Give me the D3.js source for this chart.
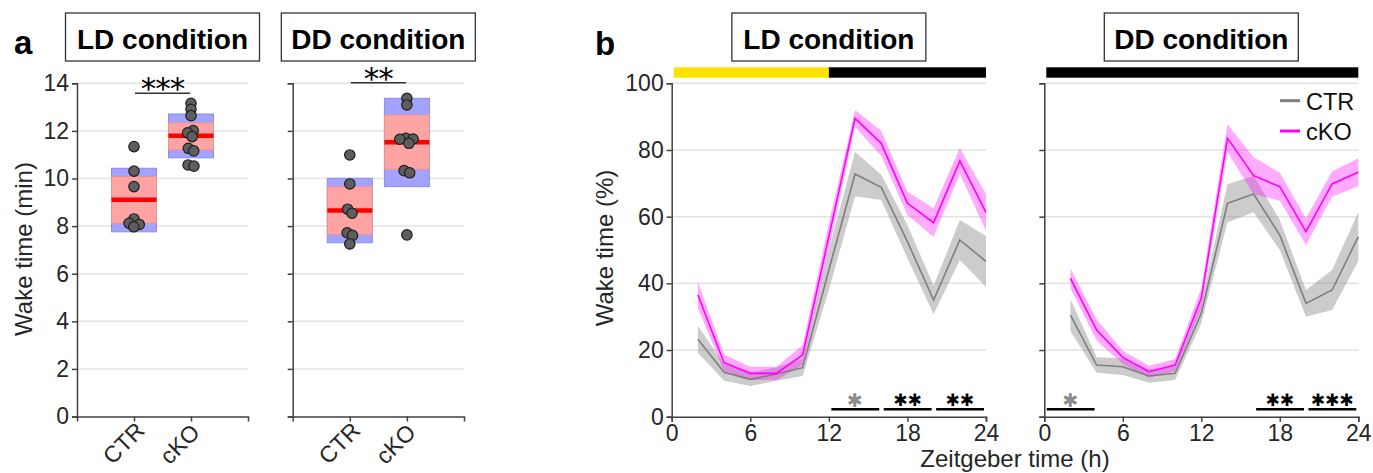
<!DOCTYPE html>
<html>
<head>
<meta charset="utf-8">
<script src="https://cdn.jsdelivr.net/npm/d3@7"></script>
<style>
body { margin: 0; background: #fff; }
svg { display: block; font-family: "Liberation Sans", Arial, sans-serif; }
.axis path, .axis line { stroke: #404040; stroke-width: 1.5; }
.axis text { fill: #262626; font-size: 23px; font-family: "Liberation Sans", Arial, sans-serif; }
.grid line { stroke: #e3e3e3; stroke-width: 1.5; }
.star { font-family: "DejaVu Sans", sans-serif; }
</style>
</head>
<body>
<script>
// ---- panel a : wake time (min) per animal ----
var groups = ["CTR", "cKO"];
var minTicks = [0, 2, 4, 6, 8, 10, 12, 14];

var ldPoints = [
    [11.34, 10.31, 9.66, 8.3, 8.12, 8.07, 7.97],
    [13.16, 12.91, 12.64, 12.01, 11.92, 11.76, 11.27, 11.16, 10.57, 10.52]
];
var ddPoints = [
    [10.99, 9.77, 8.71, 8.54, 7.72, 7.61, 7.25],
    [13.37, 13.09, 11.69, 11.66, 11.65, 11.48, 10.33, 10.24, 7.63]
];
// mean, 95% CI and SD ranges as drawn
var ldMean = [9.11, 11.8];
var ldCi = [[8.12, 10.08], [11.2, 12.34]];
var ldSd = [[7.76, 10.43], [10.87, 12.71]];
var ddMean = [8.66, 11.52];
var ddCi = [[7.64, 9.66], [10.39, 12.67]];
var ddSd = [[7.3, 10.01], [9.66, 13.37]];

// ---- panel b : wake time (%) per 2 h bin ----
var hours = [2, 4, 6, 8, 10, 12, 14, 16, 18, 20, 22, 24];
var hourTicks = [0, 6, 12, 18, 24];
var pctTicks = [0, 20, 40, 60, 80, 100];

var ldCtr = [23.2, 13.3, 11.2, 12.8, 14.7, 44, 72.8, 68.8, 52.5, 35, 53, 46.6];
var ldCtrErr = [4, 2.5, 2, 2, 2.5, 6, 6.7, 3.8, 5, 4.3, 6, 7.6];
var ldCko = [36.5, 16.2, 13, 13, 18.5, 54, 89.5, 82, 64, 58.2, 76.7, 61.3];
var ldCkoErr = [4, 2.5, 2, 2, 3, 4, 2.5, 3.8, 3.5, 4.3, 3.9, 5.5];

var ddCtr = [30.5, 15.5, 15, 12.2, 13, 31, 64, 66.8, 54.5, 34, 38, 54];
var ddCtrErr = [4.8, 2.3, 2.5, 2, 2, 3, 5.7, 5.5, 4.5, 4, 6, 7.3];
var ddCko = [41.5, 26, 17.8, 13.5, 15.5, 35.5, 83.5, 72.3, 69, 55.5, 69.8, 73.3];
var ddCkoErr = [3, 3.2, 2, 1.8, 1.8, 3, 4.2, 5.5, 4.2, 4, 3.8, 4.2];

var ldPhases = [{from: 0, to: 12, light: true}, {from: 12, to: 24, light: false}];
var ddPhases = [{from: 0, to: 24, light: false}];

var ldSig = [{from: 12, to: 16, n: 1, weak: true}, {from: 16, to: 20, n: 2}, {from: 20, to: 24, n: 2}];
var ddSig = [{from: 0, to: 4, n: 1, weak: true}, {from: 16, to: 20, n: 2}, {from: 20, to: 24, n: 3}];

var svg = d3.select("body").append("svg")
    .attr("width", 1373)
    .attr("height", 473);

function titleBox(cx, label) {
    svg.append("rect")
        .attr("x", cx - 97).attr("y", 13)
        .attr("width", 194).attr("height", 48)
        .attr("fill", "#fff").attr("stroke", "#333").attr("stroke-width", 1.3);
    svg.append("text")
        .attr("x", cx).attr("y", 48.5)
        .attr("text-anchor", "middle")
        .attr("font-size", 28).attr("font-weight", "bold")
        .text(label);
}

function boxPanel(left, right, points, mean, ci, sd, showLabels, title, sig) {
    var x = d3.scalePoint().domain(groups).range([left, right]).padding(1);
    var y = d3.scaleLinear().domain([0, 14]).range([416.5, 83.3]);
    var bw = 45;

    svg.append("g").attr("class", "grid")
        .selectAll("line")
        .data(minTicks.slice(1))
        .enter().append("line")
        .attr("x1", left).attr("x2", right)
        .attr("y1", function(d) { return y(d); })
        .attr("y2", function(d) { return y(d); });

    groups.forEach(function(g, i) {
        svg.append("rect")
            .attr("x", x(g) - bw / 2).attr("width", bw)
            .attr("y", y(sd[i][1])).attr("height", y(sd[i][0]) - y(sd[i][1]))
            .attr("fill", "#a3a3ff").attr("stroke", "#8a8af0");
        svg.append("rect")
            .attr("x", x(g) - bw / 2).attr("width", bw)
            .attr("y", y(ci[i][1])).attr("height", y(ci[i][0]) - y(ci[i][1]))
            .attr("fill", "#ffa3a3").attr("stroke", "#e29494");
        svg.append("line")
            .attr("x1", x(g) - bw / 2).attr("x2", x(g) + bw / 2)
            .attr("y1", y(mean[i])).attr("y2", y(mean[i]))
            .attr("stroke", "#ff0000").attr("stroke-width", 4.5);

        // small swarm so nearly equal values sit side by side
        var nodes = points[i].map(function(v, k) {
            return {x: x(g) + (k % 2 ? 0.3 : -0.3), y: y(v), fy: y(v)};
        });
        var sim = d3.forceSimulation(nodes)
            .force("x", d3.forceX(x(g)).strength(0.15))
            .force("collide", d3.forceCollide(3))
            .stop();
        sim.tick(200);

        svg.selectAll(null)
            .data(nodes)
            .enter().append("circle")
            .attr("cx", function(d) { return d.x; })
            .attr("cy", function(d) { return d.fy; })
            .attr("r", 5.2)
            .attr("fill", "#5e5e5e")
            .attr("stroke", "#1e1e1e")
            .attr("stroke-width", 1.2);
    });

    var xAxis = svg.append("g")
        .attr("class", "axis")
        .attr("transform", "translate(0," + y(0) + ")")
        .call(d3.axisBottom(x).tickSizeOuter(0).tickSize(5));
    xAxis.selectAll("text")
        .attr("text-anchor", "start")
        .attr("dy", null)
        .attr("y", null)
        .attr("transform", "translate(-22,49) rotate(-45)");

    svg.append("g")
        .attr("class", "axis")
        .attr("transform", "translate(" + left + ",0)")
        .call(d3.axisLeft(y).tickValues(minTicks).tickSizeOuter(0).tickSize(5)
            .tickFormat(showLabels ? d3.format("d") : ""));

    titleBox((left + right) / 2, title);

    svg.append("line")
        .attr("x1", x("CTR") + 1).attr("x2", x("cKO") - 1)
        .attr("y1", sig.y).attr("y2", sig.y)
        .attr("stroke", "#333").attr("stroke-width", 1.5);
    svg.append("text")
        .attr("class", "star")
        .attr("x", (x("CTR") + x("cKO")) / 2).attr("y", sig.y + 6)
        .attr("text-anchor", "middle")
        .attr("font-size", 31)
        .attr("letter-spacing", -1)
        .text("*".repeat(sig.n));
}

function linePanel(left, right, ctr, ctrErr, cko, ckoErr, phases, sig, showLabels, title) {
    var x = d3.scaleLinear().domain([0, 24]).range([left, right]);
    var y = d3.scaleLinear().domain([0, 100]).range([416.7, 83.3]);

    svg.append("g").attr("class", "grid")
        .selectAll("line")
        .data(pctTicks.slice(1))
        .enter().append("line")
        .attr("x1", left).attr("x2", right)
        .attr("y1", function(d) { return y(d); })
        .attr("y2", function(d) { return y(d); });

    svg.selectAll(null)
        .data(phases)
        .enter().append("rect")
        .attr("x", function(d) { return Math.max(x(d.from), left + 2); })
        .attr("width", function(d) { return x(d.to) - Math.max(x(d.from), left + 2); })
        .attr("y", 67.3).attr("height", 10.4)
        .attr("fill", function(d) { return d.light ? "#ffe100" : "#000"; });

    var series = [
        {mean: ctr, err: ctrErr, color: "#7f7f7f", band: "#808080", op: 0.4},
        {mean: cko, err: ckoErr, color: "#ff00ff", band: "#ff00ff", op: 0.33}
    ];

    var band = d3.area()
        .x(function(d) { return x(d.h); })
        .y0(function(d) { return y(d.m - d.e); })
        .y1(function(d) { return y(d.m + d.e); });
    var line = d3.line()
        .x(function(d) { return x(d.h); })
        .y(function(d) { return y(d.m); });

    series.forEach(function(s) {
        var rows = hours.map(function(h, i) { return {h: h, m: s.mean[i], e: s.err[i]}; });
        svg.append("path")
            .attr("d", band(rows))
            .attr("fill", s.band)
            .attr("fill-opacity", s.op);
        s.rows = rows;
    });
    series.forEach(function(s) {
        svg.append("path")
            .attr("d", line(s.rows))
            .attr("fill", "none")
            .attr("stroke", s.color)
            .attr("stroke-width", 1.6);
    });

    svg.append("g")
        .attr("class", "axis")
        .attr("transform", "translate(0," + y(0) + ")")
        .call(d3.axisBottom(x).tickValues(hourTicks).tickSizeOuter(0).tickSize(5));

    svg.append("g")
        .attr("class", "axis")
        .attr("transform", "translate(" + left + ",0)")
        .call(d3.axisLeft(y).tickValues(pctTicks).tickSizeOuter(0).tickSize(5)
            .tickFormat(showLabels ? d3.format("d") : ""));

    var sigY = 409.3;
    sig.forEach(function(s) {
        svg.append("line")
            .attr("x1", x(s.from) + 2.5).attr("x2", x(s.to) - 2)
            .attr("y1", sigY).attr("y2", sigY)
            .attr("stroke", "#000").attr("stroke-width", 2.6);
        svg.append("text")
            .attr("class", "star")
            .attr("x", x((s.from + s.to) / 2)).attr("y", sigY - 9)
            .attr("text-anchor", "middle")
            .attr("dominant-baseline", "central")
            .attr("font-size", s.weak ? 19 : 17)
            .attr("fill", s.weak ? "#8c8c8c" : "#000")
            .text("\u2731".repeat(s.n));
    });

    titleBox((left + right) / 2, title);
    return series;
}

boxPanel(77, 248, ldPoints, ldMean, ldCi, ldSd, true, "LD condition", {y: 93.3, n: 3});
boxPanel(292.7, 464, ddPoints, ddMean, ddCi, ddSd, false, "DD condition", {y: 82.7, n: 2});

linePanel(671.7, 986, ldCtr, ldCtrErr, ldCko, ldCkoErr, ldPhases, ldSig, true, "LD condition");
var ddSeries = linePanel(1044.3, 1358.3, ddCtr, ddCtrErr, ddCko, ddCkoErr, ddPhases, ddSig, false, "DD condition");

// legend
var legend = svg.append("g").attr("transform", "translate(1280,100.7)");
groups.forEach(function(g, i) {
    legend.append("line")
        .attr("x1", 0).attr("x2", 20)
        .attr("y1", i * 30.3).attr("y2", i * 30.3)
        .attr("stroke", ddSeries[i].color).attr("stroke-width", 3);
    legend.append("text")
        .attr("x", 26).attr("y", i * 30.3 + 9)
        .attr("font-size", 23.5)
        .attr("fill", "#111")
        .text(g);
});

// axis titles and panel letters
svg.append("text")
    .attr("transform", "translate(32,249) rotate(-90)")
    .attr("text-anchor", "middle")
    .attr("font-size", 24).attr("fill", "#262626")
    .text("Wake time (min)");
svg.append("text")
    .attr("transform", "translate(613,248) rotate(-90)")
    .attr("text-anchor", "middle")
    .attr("font-size", 24).attr("fill", "#262626")
    .text("Wake time (%)");
svg.append("text")
    .attr("x", 1015).attr("y", 467)
    .attr("text-anchor", "middle")
    .attr("font-size", 24).attr("fill", "#262626")
    .text("Zeitgeber time (h)");

svg.append("text").attr("x", 14).attr("y", 54)
    .attr("font-size", 33).attr("font-weight", "bold").text("a");
svg.append("text").attr("x", 595).attr("y", 55)
    .attr("font-size", 33).attr("font-weight", "bold").text("b");
</script>
</body>
</html>
